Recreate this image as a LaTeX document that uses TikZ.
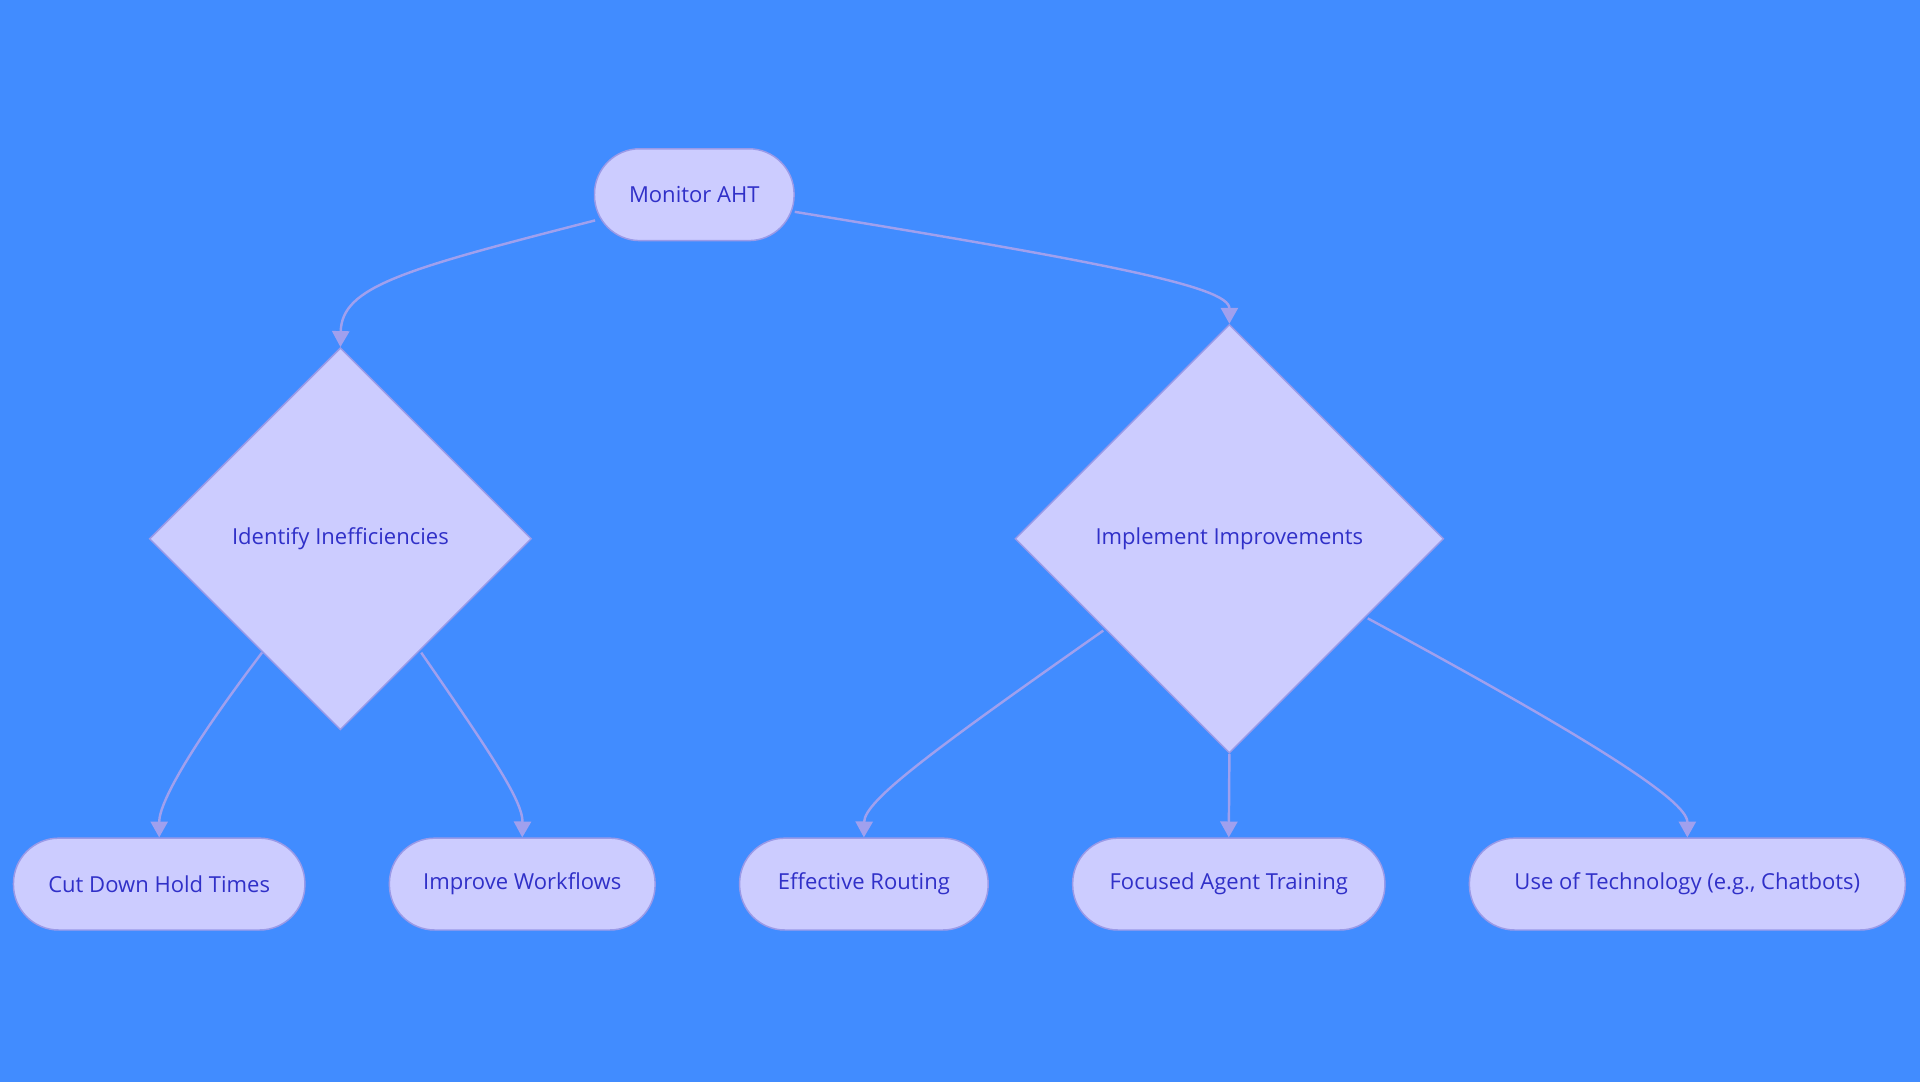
\documentclass[tikz,border=0pt]{standalone}
\usepackage{fontspec}
\setmainfont{Open Sans}
\usetikzlibrary{shapes.geometric,arrows.meta}
\definecolor{bg}{HTML}{418CFF}
\definecolor{nfill}{HTML}{CCCCFF}
\definecolor{nline}{HTML}{9A9AE8}
\definecolor{ntext}{HTML}{3030C8}
\definecolor{eline}{HTML}{A0A0EE}
\begin{document}
\begin{tikzpicture}[x=1pt,y=1pt,
  pill/.style={draw=nline,line width=1.2pt,fill=nfill,rounded corners=37pt,minimum height=75pt,text=ntext,font=\fontsize{18}{20}\selectfont,inner sep=0},
  dia/.style={draw=nline,line width=1.2pt,fill=nfill,diamond,aspect=1,inner sep=0,text=ntext,font=\fontsize{18}{20}\selectfont},
  edge/.style={draw=eline,line width=2pt,-{Triangle[length=13pt,width=14pt]}}]
\fill[bg] (0,0) rectangle (1568,884);
\useasboundingbox (0,0) rectangle (1568,884);
\node[pill,minimum width=163pt] (mon) at (567,725) {Monitor AHT};
\node[dia,minimum width=312pt,minimum height=312pt] (idf) at (278,444) {Identify Inefficiencies};
\node[dia,minimum width=350pt,minimum height=350pt] (imp) at (1004,444) {Implement Improvements};
\node[pill,minimum width=238pt] (cut) at (130,162) {Cut Down Hold Times};
\node[pill,minimum width=217pt] (wf) at (426.5,162) {Improve Workflows};
\node[pill,minimum width=203pt] (er) at (705.5,162) {Effective Routing};
\node[pill,minimum width=255pt] (fat) at (1003.5,162) {Focused Agent Training};
\node[pill,minimum width=356pt] (tech) at (1378,162) {Use of Technology (e.g., Chatbots)};
\coordinate (m1) at (486,704);
\coordinate (m2) at (649,711);
\coordinate (i1) at (214,351);
\coordinate (i2) at (344,351);
\coordinate (p1) at (901,369);
\coordinate (p3) at (1117,379);
\draw[edge] (m1) .. controls (330,664) and (279,650) .. (idf.north);
\draw[edge] (m2) .. controls (900,670) and (1004,650) .. (imp.north);
\draw[edge] (i1) .. controls (160,280) and (130,230) .. (cut.north);
\draw[edge] (i2) .. controls (400,270) and (427,230) .. (wf.north);
\draw[edge] (p1) .. controls (760,270) and (706,230) .. (er.north);
\draw[edge] (imp.south) -- (fat.north);
\draw[edge] (p3) .. controls (1300,280) and (1378,230) .. (tech.north);
\end{tikzpicture}
\end{document}
